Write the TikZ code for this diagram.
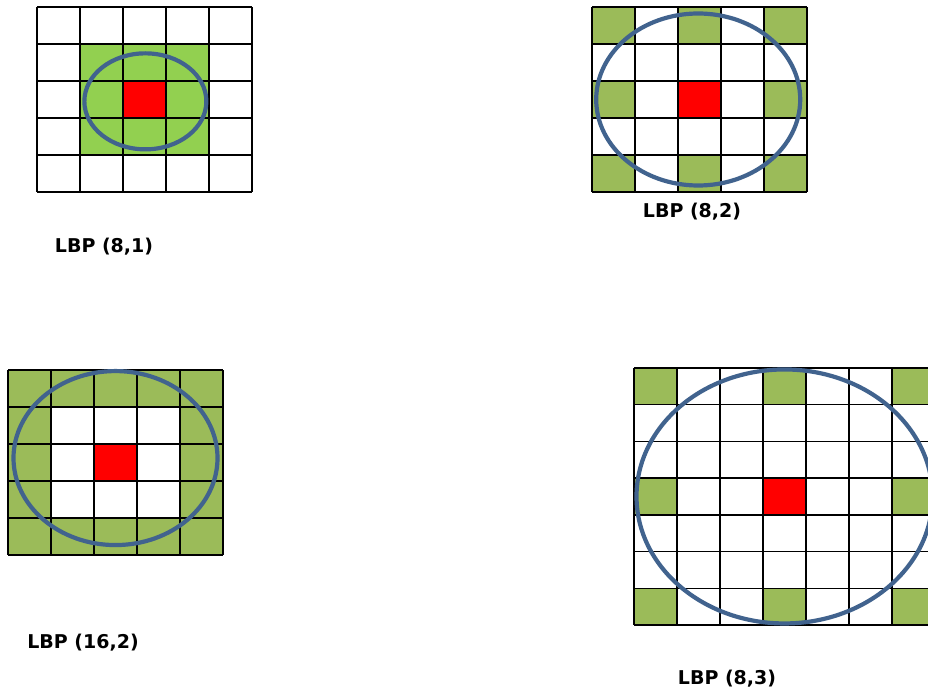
\documentclass[tikz,border=0pt]{standalone}
\usepackage{fontspec}
\setmainfont{DejaVu Sans}
\usepackage{xcolor}
\usepackage{tikz}
\definecolor{lbpGreen}{HTML}{92D050}
\definecolor{lbpOlive}{HTML}{9BBB59}
\definecolor{lbpRed}{HTML}{FF0000}
\definecolor{ringBlue}{HTML}{41638E}

\begin{document}
\begin{tikzpicture}[x=1pt, y=-1pt,
    cell/.style={draw=black, line width=1.4pt},
    ring/.style={draw=ringBlue, line width=4.2pt},
    lbpLabel/.style={font=\fontsize{19}{22}\selectfont\bfseries, inner sep=0pt}]

    \clip (0,0) rectangle (928,695);

    % LBP (8,1)
    \begin{scope}[shift={(37,7)}, x=43pt, y=-37pt]
        \fill[lbpGreen] (1,1) rectangle (4,4);
        \fill[lbpRed] (2,2) rectangle (3,3);
        \foreach \i in {0,...,5} {
            \draw[cell] (\i,0) -- (\i,5);
            \draw[cell] (0,\i) -- (5,\i);
        }
        \draw[ring] (2.52,2.55) ellipse [x radius=61pt, y radius=48pt];
    \end{scope}

    % LBP (8,2)
    \begin{scope}[shift={(592,7)}, x=43pt, y=-37pt]
        \foreach \i/\j in {0/0,2/0,4/0,0/2,4/2,0/4,2/4,4/4}
            \fill[lbpOlive] (\i,\j) rectangle +(1,1);
        \fill[lbpRed] (2,2) rectangle (3,3);
        \foreach \i in {0,...,5} {
            \draw[cell] (\i,0) -- (\i,5);
            \draw[cell] (0,\i) -- (5,\i);
        }
        \draw[ring] (2.47,2.5) ellipse [x radius=102pt, y radius=86pt];
    \end{scope}

    % LBP (16,2)
    \begin{scope}[shift={(8,370)}, x=43pt, y=-37pt]
        \fill[lbpOlive] (0,0) rectangle (5,5);
        \fill[white] (1,1) rectangle (4,4);
        \fill[lbpRed] (2,2) rectangle (3,3);
        \foreach \i in {0,...,5} {
            \draw[cell] (\i,0) -- (\i,5);
            \draw[cell] (0,\i) -- (5,\i);
        }
        \draw[ring] (2.5,2.38) ellipse [x radius=102pt, y radius=87pt];
    \end{scope}

    % LBP (8,3)
    \begin{scope}[shift={(634,368)}, x=43pt, y=-36.7pt]
        \foreach \i/\j in {0/0,3/0,6/0,0/3,6/3,0/6,3/6,6/6}
            \fill[lbpOlive] (\i,\j) rectangle +(1,1);
        \fill[lbpRed] (3,3) rectangle (4,4);
        \foreach \i in {0,...,7} {
            \draw[cell] (\i,0) -- (\i,7);
            \draw[cell] (0,\i) -- (7,\i);
        }
        \draw[ring] (3.5,3.5) ellipse [x radius=148pt, y radius=127pt];
    \end{scope}

    \node (lbp81) [lbpLabel] at (104,247) {LBP (8,1)};
    \node (lbp82) [lbpLabel] at (692,212) {LBP (8,2)};
    \node (lbp162) [lbpLabel] at (83,643) {LBP (16,2)};
    \node (lbp83) [lbpLabel] at (727,679) {LBP (8,3)};
\end{tikzpicture}
\end{document}
